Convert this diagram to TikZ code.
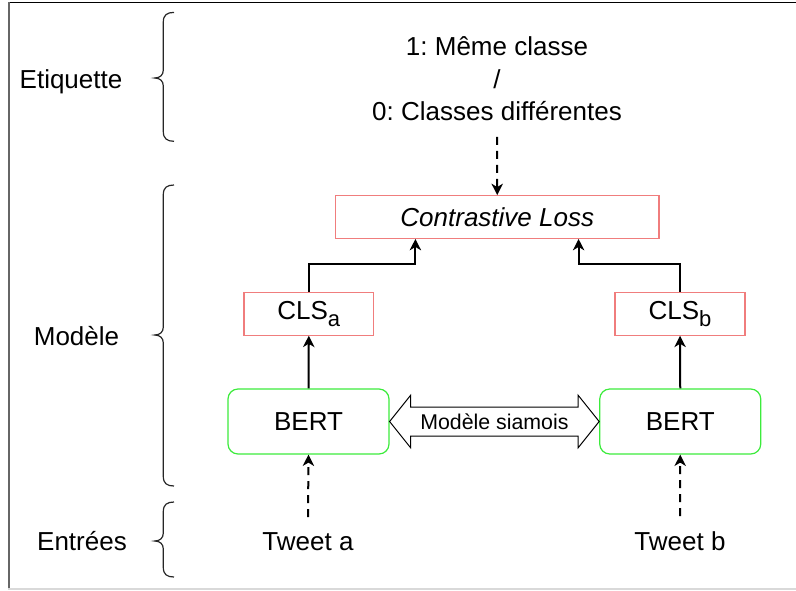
\documentclass[tikz,border=0pt]{standalone}
\usepackage{fontspec}
\setmainfont{Liberation Sans}
\usetikzlibrary{arrows.meta,calc}
\definecolor{boxred}{RGB}{240,125,125}
\definecolor{boxgreen}{RGB}{60,235,60}
\newcommand{\mysub}[1]{\raisebox{-5.2pt}{\fontsize{16.5pt}{18pt}\selectfont #1}}
\begin{document}
\frenchspacing
\begin{tikzpicture}[x=0.75pt,y=-0.75pt,
  every node/.style={font=\fontsize{19.5pt}{24.4pt}\selectfont\frenchspacing, inner sep=0pt, text=black},
  redbox/.style={draw=boxred, line width=0.9pt, minimum height=32pt},
  greenbox/.style={draw=boxgreen, line width=0.9pt, rounded corners=7.5pt, minimum width=120.75pt, minimum height=48.75pt},
  conn/.style={line width=1.5pt, -{Stealth[length=8.5pt,width=8.5pt,inset=2.5pt]}},
  dasharrow/.style={conn, dash pattern=on 6pt off 4.5pt},
  bracestyle/.style={line width=0.9pt, draw=black!85},
  smalltext/.style={font=\fontsize{16pt}{19pt}\selectfont}
]
\useasboundingbox (0,0) rectangle (796,590);
% frame
\draw[black, line width=1.3pt] (8,2.5) -- (796,2.5);
\draw[black!60, line width=1.5pt] (8.5,2) -- (8.5,590);
\draw[black!15, line width=1.3pt] (8,589) -- (796,589);

% left labels
\node[anchor=base] (etq) at (71,88) {Etiquette};
\node[anchor=base] (mod) at (76.5,345) {Modèle};
\node[anchor=base] (ent) at (82,550) {Entrées};

% braces
\draw[bracestyle] (174,12.4) .. controls (167,12.4) and (163.3,15) .. (163.3,22) -- (163.3,70) .. controls (163.3,75) and (160,78) .. (154.7,78) .. controls (160,78) and (163.3,81) .. (163.3,86) -- (163.3,131.5) .. controls (163.3,138.5) and (167,141.3) .. (174,141.3);
\draw[bracestyle] (174,185) .. controls (167,185) and (163.3,187.6) .. (163.3,194.6) -- (163.3,327) .. controls (163.3,332) and (160,335) .. (154.7,335) .. controls (160,335) and (163.3,338) .. (163.3,343) -- (163.3,476.4) .. controls (163.3,483.4) and (167,486) .. (174,486);
\draw[bracestyle] (174,502) .. controls (167,502) and (163.3,504.6) .. (163.3,511.6) -- (163.3,533) .. controls (163.3,538) and (160,541) .. (154.7,541) .. controls (160,541) and (163.3,544) .. (163.3,549) -- (163.3,567.4) .. controls (163.3,574.4) and (167,577) .. (174,577);

% label text
\node[align=center] (lab) at (497,79) {1: Même classe\\/\\0: Classes différentes};

% boxes
\node[redbox, minimum width=242.6pt] (cl) at (497.25,217) {\itshape Contrastive Loss};
\node[redbox, minimum width=97.2pt] (ca) at (308.8,313.8) {CLS\mysub{a}};
\node[redbox, minimum width=97.5pt] (cb) at (680,313.8) {CLS\mysub{b}};
\node[greenbox] (ba) at (308.5,421.5) {BERT};
\node[greenbox] (bb) at (680.25,421.5) {BERT};

% inputs
\node[anchor=base] (ta) at (308,550) {Tweet a};
\node[anchor=base] (tb) at (680,550) {Tweet b};

% double arrow between BERTs
\coordinate (L) at (ba.east);
\coordinate (R) at (bb.west);
\draw[line width=0.75pt, fill=white] (L) -- ++(21,-26.25) -- ++(0,11.75) -- ($(R)+(-21,-14.5)$) -- ++(0,-11.75) -- (R) -- ++(-21,26.25) -- ++(0,-11.75) -- ($(L)+(21,14.5)$) -- ++(0,11.75) -- cycle;
\node[smalltext] (siam) at ($(L)!0.5!(R)$) {Modèle siamois};

% connectors
\draw[dasharrow] ([yshift=-11.6pt]lab.south) -- (cl.north);
\draw[conn] (ca.north) -- ++(0,-27.5) -| ($(cl.south west)+(80.5,0)$);
\draw[conn] (cb.north) -- ++(0,-27.5) -| ($(cl.south east)+(-81,0)$);
\draw[conn] (ba.north) -- (ca.south);
\draw[conn] (bb.north) -- (cb.south);
\draw[dasharrow] ([yshift=11pt]ta.north) -- (ba.south);
\draw[dasharrow] ([yshift=11pt]tb.north) -- (bb.south);
\end{tikzpicture}
\end{document}
